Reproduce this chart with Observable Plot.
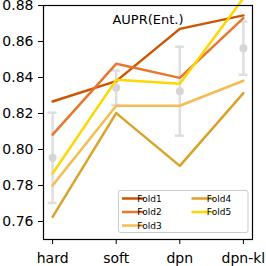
<!DOCTYPE html>
<html><head><meta charset="utf-8">
<script src="https://cdn.jsdelivr.net/npm/d3@7"></script>
<script src="https://cdn.jsdelivr.net/npm/@observablehq/plot@0.6"></script>
<style>body{margin:0;background:#fff} svg{display:block}</style>
</head><body><div id="chart"></div>
<script>
const categories = ["hard", "soft", "dpn", "dpn-kl"];
const folds = ["Fold1", "Fold2", "Fold3", "Fold4", "Fold5"];
const fold1 = [0.8267, 0.8380, 0.8670, 0.8745];
const fold2 = [0.8083, 0.8476, 0.8398, 0.8730];
const fold3 = [0.7800, 0.8243, 0.8243, 0.8382];
const fold4 = [0.7626, 0.8202, 0.7909, 0.8313];
const fold5 = [0.7867, 0.8387, 0.8365, 0.8840];
const meanVals = [0.7954, 0.8343, 0.8324, 0.8563];
const stdVals = [0.0251, 0.0096, 0.0247, 0.0148];
const yTicks = [0.76, 0.78, 0.80, 0.82, 0.84, 0.86, 0.88];
const colors = ["#cc5500", "#e8762d", "#f5bc4f", "#d9a32a", "#ffd700"];
const title = "AUPR(Ent.)";

const foldSeries = [fold1, fold2, fold3, fold4, fold5];
const rows = [];
foldSeries.forEach((vals, f) => vals.forEach((v, i) => rows.push({fold: folds[f], i, v})));
const stats = meanVals.map((m, i) => ({i, m, lo: m - stdVals[i], hi: m + stdVals[i]}));
const capHalf = 0.07;

const plot = Plot.plot({
  width: 266, height: 266,
  marginLeft: 43, marginRight: 14, marginTop: 5, marginBottom: 27,
  style: {fontFamily: "DejaVu Sans", fontSize: "14px", color: "black", background: "white"},
  x: {type: "linear", domain: [-0.143, 3.143]},
  y: {domain: [0.75, 0.88]},
  color: {domain: folds, range: colors},
  marks: [
    Plot.ruleX(stats, {x: "i", y1: "lo", y2: "hi", stroke: "#dedede", strokeWidth: 2.5}),
    Plot.ruleY(stats, {y: "hi", x1: d => d.i - capHalf, x2: d => d.i + capHalf, stroke: "#dedede", strokeWidth: 2.5}),
    Plot.ruleY(stats, {y: "lo", x1: d => d.i - capHalf, x2: d => d.i + capHalf, stroke: "#dedede", strokeWidth: 2.5}),
    Plot.dot(stats, {x: "i", y: "m", r: 4, fill: "#d5d5d5"}),
    Plot.line(rows, {x: "i", y: "v", z: "fold", stroke: "fold", strokeWidth: 2.5}),
    Plot.axisX({ticks: [0, 1, 2, 3], tickFormat: i => categories[i], tickSize: 5, tickPadding: 9, label: null, fontSize: 14}),
    Plot.axisY({ticks: yTicks, tickFormat: d => d.toFixed(2), tickSize: 5, tickPadding: 5, label: null, fontSize: 14}),
    Plot.frame({stroke: "black", strokeWidth: 1.2}),
    Plot.text([title], {frameAnchor: "top", lineAnchor: "bottom", dy: 18, fontSize: 13, fill: "black"})
  ]
});
document.getElementById("chart").append(plot);

// legend inside the axes (lower right)
const svg = d3.select(plot);
const lg = svg.append("g").attr("font-family", "DejaVu Sans").attr("font-size", 9);
lg.append("rect").attr("x", 118.5).attr("y", 190.5).attr("width", 129.5).attr("height", 42)
  .attr("rx", 2).attr("fill", "white").attr("fill-opacity", 0.8).attr("stroke", "#cccccc");
folds.forEach((f, k) => {
  const col = k < 3 ? 0 : 1, row = k < 3 ? k : k - 3;
  const x0 = col === 0 ? 122 : 191.5;
  const y0 = 198.5 + row * 13.5;
  lg.append("line").attr("x1", x0).attr("x2", x0 + 22).attr("y1", y0).attr("y2", y0)
    .attr("stroke", colors[k]).attr("stroke-width", 2.5);
  lg.append("text").attr("x", x0 + 27.5).attr("y", y0 + 3.3).attr("fill", "black").text(f);
});
</script></body></html>
